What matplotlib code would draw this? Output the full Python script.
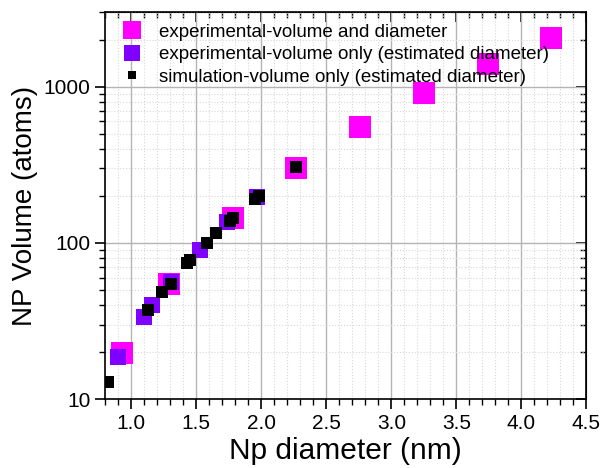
import matplotlib
matplotlib.use("Agg")
import matplotlib.pyplot as plt
import matplotlib.ticker as mticker
from matplotlib.lines import Line2D

# experimental: volume and diameter
exp_both_d = [0.93, 1.29, 1.78, 2.27, 2.76, 3.25, 3.74, 4.23]
exp_both_v = [19.8, 55, 145, 303, 555, 912, 1396, 2037]

# experimental: volume only (estimated diameter)
exp_vol_d = [0.90, 1.10, 1.16, 1.31, 1.53, 1.74, 1.97]
exp_vol_v = [18.6, 33.6, 39.9, 56.2, 90.6, 137, 196]

# simulation: volume only (estimated diameter)
sim_d = [0.82, 1.13, 1.24, 1.31, 1.43, 1.45, 1.58, 1.65, 1.76, 1.78, 1.95, 1.98, 2.27]
sim_v = [12.9, 37.4, 48.5, 54.8, 74, 78, 99.7, 115.7, 137.8, 145, 191, 201, 305]

labels = ["experimental-volume and diameter",
          "experimental-volume only (estimated diameter)",
          "simulation-volume only (estimated diameter)"]

plt.rcParams['font.family'] = ['Liberation Sans', 'DejaVu Sans']

fig = plt.figure(figsize=(6.04, 4.68), dpi=100)
ax = fig.add_axes([0.174, 0.147, 0.797, 0.827])

ax.plot(exp_both_d, exp_both_v, 's', color='#ff00ff', markersize=16, markeredgewidth=0, zorder=3)
ax.plot(exp_vol_d, exp_vol_v, 's', color='#8000ff', markersize=11.5, markeredgewidth=0, zorder=4)
ax.plot(sim_d, sim_v, 's', color='black', markersize=8.5, markeredgewidth=0, zorder=5)

ax.set_yscale('log')
ax.set_xlim(0.8, 4.5)
ax.set_ylim(10, 3000)

ax.xaxis.set_major_locator(mticker.MultipleLocator(0.5))
ax.xaxis.set_minor_locator(mticker.MultipleLocator(0.1))
ax.xaxis.set_major_formatter(mticker.FormatStrFormatter('%.1f'))
ax.yaxis.set_major_locator(mticker.LogLocator(base=10))
ax.yaxis.set_minor_locator(mticker.LogLocator(base=10, subs=range(2, 10)))
ax.yaxis.set_major_formatter(mticker.FuncFormatter(lambda v, p: '%d' % v))
ax.yaxis.set_minor_formatter(mticker.NullFormatter())

ax.grid(True, which='major', color='#b4b4b4', linewidth=1.0, zorder=0)
ax.grid(True, which='minor', color='#d8d8d8', linestyle=':', linewidth=0.8, zorder=0)
ax.set_axisbelow(True)

ax.tick_params(which='major', direction='out', length=7, width=1.2, labelsize=15)
ax.tick_params(which='minor', direction='out', length=4, width=1.0)
for s in ax.spines.values():
    s.set_linewidth(1.2)

# mirrored ticks on top and right, pointing inwards
top = ax.secondary_xaxis('top')
top.xaxis.set_major_locator(mticker.MultipleLocator(0.5))
top.xaxis.set_minor_locator(mticker.MultipleLocator(0.1))
top.tick_params(which='major', direction='in', length=7, width=1.2, labeltop=False)
top.tick_params(which='minor', direction='in', length=4, width=1.0)
right = ax.secondary_yaxis('right')
right.yaxis.set_major_locator(mticker.LogLocator(base=10))
right.yaxis.set_minor_locator(mticker.LogLocator(base=10, subs=range(2, 10)))
right.yaxis.set_minor_formatter(mticker.NullFormatter())
right.tick_params(which='major', direction='in', length=7, width=1.2, labelright=False)
right.tick_params(which='minor', direction='in', length=4, width=1.0)

ax.set_xlabel('Np diameter (nm)', fontsize=21.5, labelpad=3)
ax.set_ylabel('NP Volume (atoms)', fontsize=20, labelpad=4)

handles = [
    Line2D([], [], ls='none', marker='s', color='#ff00ff', markersize=13, markeredgewidth=0),
    Line2D([], [], ls='none', marker='s', color='#8000ff', markersize=11.3, markeredgewidth=0),
    Line2D([], [], ls='none', marker='s', color='black', markersize=6, markeredgewidth=0),
]
ax.legend(handles, labels, loc='upper left', frameon=False, fontsize=13.5,
          handlelength=1.0, handletextpad=0.95, labelspacing=0.29,
          borderpad=0, borderaxespad=0, bbox_to_anchor=(0.0365, 0.971))

fig.savefig('out.png', dpi=100)
